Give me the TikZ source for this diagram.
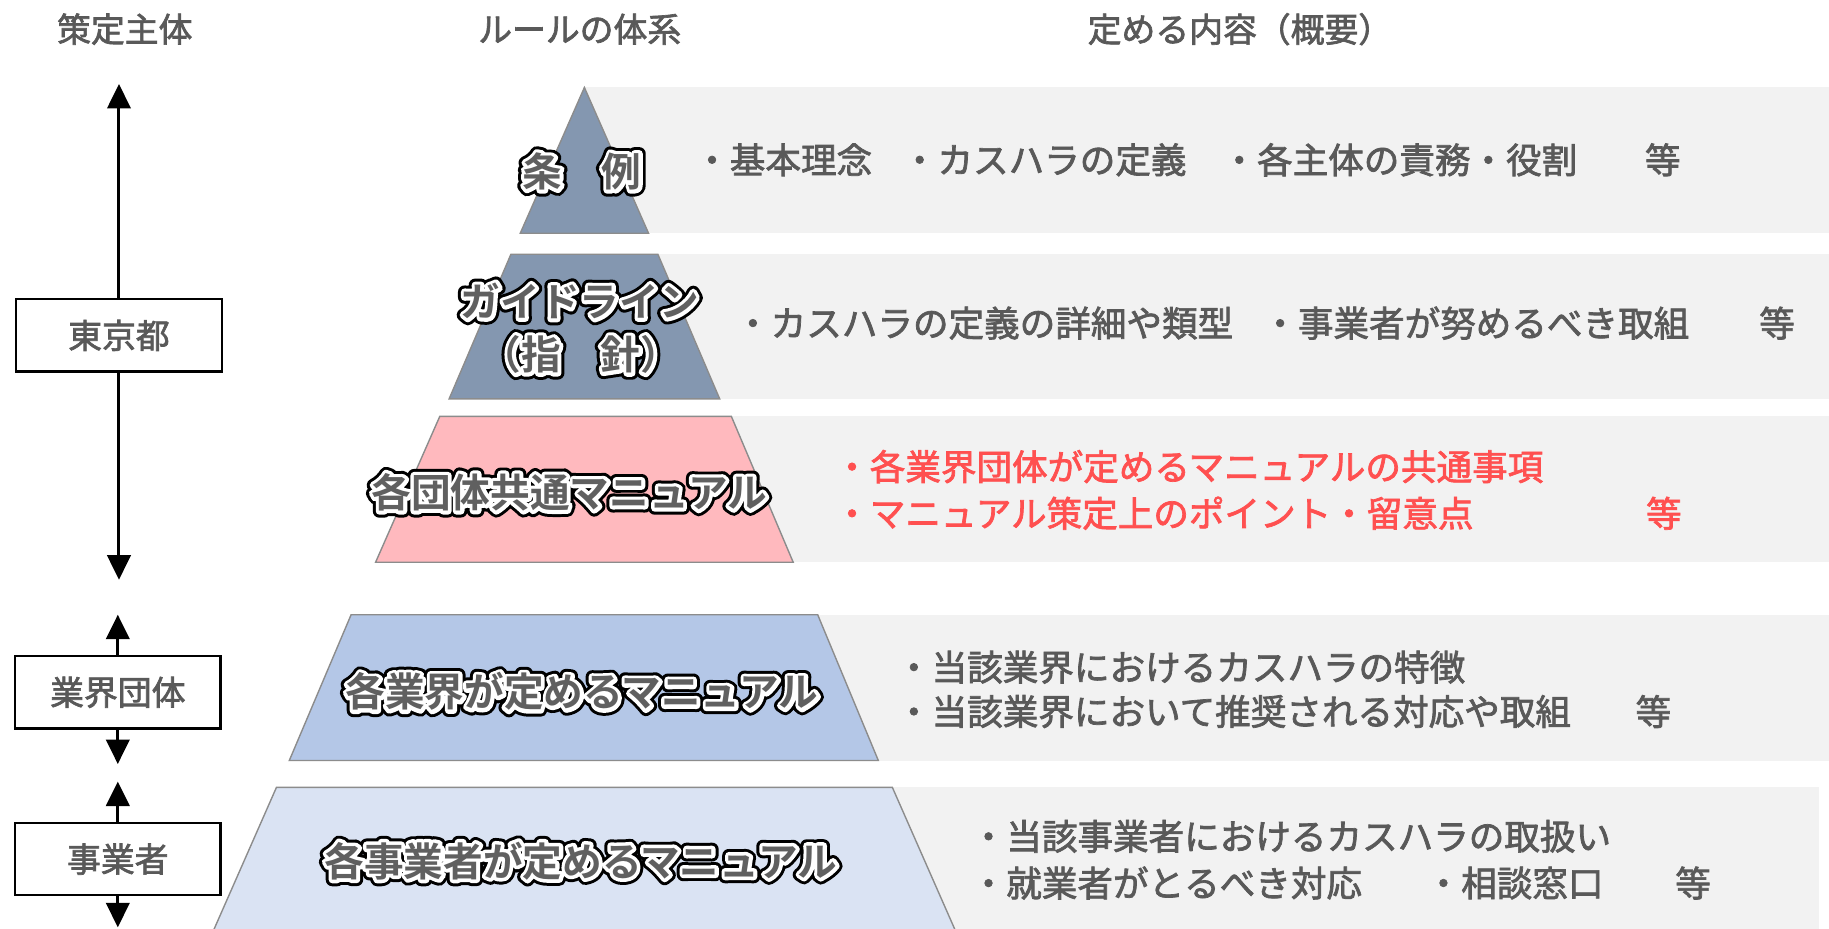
\documentclass[tikz,border=0pt]{standalone}
\usepackage{fontspec}
\setmainfont{Noto Sans CJK JP}[FakeBold=2]
\newfontfamily\lblfont{Noto Sans CJK JP Bold}
\newfontfamily\lblblackfont{Noto Sans CJK JP Bold}[FakeBold=33]
\newfontfamily\lblwhitefont{Noto Sans CJK JP Bold}[FakeBold=18]
\usetikzlibrary{arrows.meta}
\definecolor{txtgrey}{HTML}{595959}
\definecolor{lblgrey}{HTML}{606060}
\definecolor{bandgrey}{HTML}{F2F2F2}
\definecolor{steel}{HTML}{8497B0}
\definecolor{pinkfill}{HTML}{FFB9BE}
\definecolor{midblue}{HTML}{B4C7E7}
\definecolor{paleblue}{HTML}{DAE3F3}
\definecolor{redtxt}{HTML}{FF5050}
\definecolor{edgegrey}{HTML}{8C8C8C}
\newcommand\roundjoin{\special{pdf:literal direct 1 j 1 J}}
\begin{document}
\begin{tikzpicture}[x=1pt,y=-1pt,
  band/.style={fill=bandgrey, draw=none},
  tier/.style={draw=edgegrey, line width=1.2pt},
  desc/.style={anchor=west, inner sep=0pt, font=\fontsize{30.5}{36}\selectfont, text=txtgrey},
  reddesc/.style={desc, text=redtxt},
  hdr/.style={inner sep=0pt, font=\fontsize{29}{34}\selectfont, text=txtgrey},
  actor/.style={draw=black, line width=1.8pt, fill=white, minimum width=176pt, minimum height=62pt, inner sep=0pt, font=\fontsize{29}{34}\selectfont, text=txtgrey},
  arr/.style={line width=2.6pt, -{Triangle[length=21pt,width=20pt]}},
  lblbase/.style={inner sep=0pt},
  lblouter/.style={lblbase, font=\lblblackfont\fontsize{34}{40}\selectfont, text=black},
  lblinner/.style={lblbase, font=\lblwhitefont\fontsize{34}{40}\selectfont, text=white},
  lbl/.style={lblbase, font=\lblfont\fontsize{34}{40}\selectfont, text=lblgrey}]
\useasboundingbox (0,0) rectangle (1568,796);
\fill[white] (0,0) rectangle (1568,796);

% headers
\node[hdr] (h1) at (107,25) {策定主体};
\node[hdr] (h2) at (497,25) {ルールの体系};
\node[hdr] (h3) at (1063,25) {定める内容（概要）};

% bands
\fill[band] (500,75) rectangle (1568,200);
\fill[band] (500,218) rectangle (1568,342);
\fill[band] (500,357) rectangle (1568,482);
\fill[band] (500,527) rectangle (1568,652);
\fill[band] (500,675) rectangle (1559,800);

% pyramid tiers
\filldraw[tier, fill=steel] (501,75) -- (556,200) -- (446,200) -- cycle;
\filldraw[tier, fill=steel] (438,218) -- (564,218) -- (617,342) -- (385,342) -- cycle;
\filldraw[tier, fill=pinkfill] (377,357) -- (627,357) -- (680,482) -- (322,482) -- cycle;
\filldraw[tier, fill=midblue] (301,527) -- (701,527) -- (753,652) -- (248,652) -- cycle;
\filldraw[tier, fill=paleblue] (237,675) -- (765,675) -- (820,800) -- (182,800) -- cycle;

% tier labels (outer black ring, inner white ring, grey text)
\node[lblouter] (l1o) at (499,147) {\roundjoin 条　例};
\node[lblinner] (l1w) at (499,147) {\roundjoin 条　例};
\node[lbl] (l1) at (499,147) {条　例};
\node[lblouter] (l2ao) at (497,258) {\roundjoin ガイドライン};
\node[lblinner] (l2aw) at (497,258) {\roundjoin ガイドライン};
\node[lbl] (l2a) at (497,258) {ガイドライン};
\node[lblouter] (l2bo) at (498,304) {\roundjoin （指　針）};
\node[lblinner] (l2bw) at (498,304) {\roundjoin （指　針）};
\node[lbl] (l2b) at (498,304) {（指　針）};
\node[lblouter] (l3o) at (488,422) {\roundjoin 各団体共通マニュアル};
\node[lblinner] (l3w) at (488,422) {\roundjoin 各団体共通マニュアル};
\node[lbl] (l3) at (488,422) {各団体共通マニュアル};
\node[lblouter] (l4o) at (499,593) {\roundjoin 各業界が定めるマニュアル};
\node[lblinner] (l4w) at (499,593) {\roundjoin 各業界が定めるマニュアル};
\node[lbl] (l4) at (499,593) {各業界が定めるマニュアル};
\node[lblouter] (l5o) at (498,738) {\roundjoin 各事業者が定めるマニュアル};
\node[lblinner] (l5w) at (498,738) {\roundjoin 各事業者が定めるマニュアル};
\node[lbl] (l5) at (498,738) {各事業者が定めるマニュアル};

% descriptions
\node[desc] (d1a) at (595,137) {・基本理念};
\node[desc] (d1b) at (773,137) {・カスハラの定義};
\node[desc] (d1c) at (1047,137) {・各主体の責務・役割};
\node[desc] (d1d) at (1410,137) {等};

\node[desc] (d2a) at (630,277) {・カスハラの定義の詳細や類型};
\node[desc] (d2b) at (1082,277) {・事業者が努めるべき取組};
\node[desc] (d2c) at (1508,277) {等};

\node[reddesc] (d3a) at (715,400) {・各業界団体が定めるマニュアルの共通事項};
\node[reddesc] (d3b) at (715,440) {・マニュアル策定上のポイント・留意点};
\node[reddesc] (d3c) at (1411,440) {等};

\node[desc] (d4a) at (768,572) {・当該業界におけるカスハラの特徴};
\node[desc] (d4b) at (768,610) {・当該業界において推奨される対応や取組};
\node[desc] (d4c) at (1402,610) {等};

\node[desc] (d5a) at (832,717) {・当該事業者におけるカスハラの取扱い};
\node[desc] (d5b) at (832,757) {・就業者がとるべき対応};
\node[desc] (d5c) at (1222,757) {・相談窓口};
\node[desc] (d5d) at (1436,757) {等};

% actors
\node[actor] (tokyo) at (102,287.5) {東京都};
\node[actor] (gyokai) at (101,593.5) {業界団体};
\node[actor] (jigyo) at (101,736.5) {事業者};

\coordinate (t1) at (102,72);
\coordinate (t2) at (102,497);
\coordinate (g1) at (101,527);
\coordinate (g2) at (101,655);
\coordinate (j1) at (101,670);
\coordinate (j2) at (101,795);
\draw[arr] (tokyo.north) -- (t1);
\draw[arr] (tokyo.south) -- (t2);
\draw[arr] (gyokai.north) -- (g1);
\draw[arr] (gyokai.south) -- (g2);
\draw[arr] (jigyo.north) -- (j1);
\draw[arr] (jigyo.south) -- (j2);
\end{tikzpicture}
\end{document}
